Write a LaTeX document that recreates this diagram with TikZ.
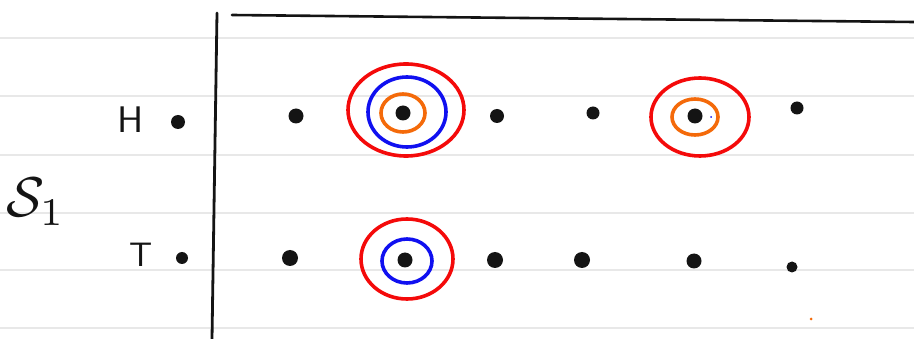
\documentclass[tikz,border=0pt]{standalone}
\usepackage{fontspec}
\definecolor{ink}{HTML}{141414}
\definecolor{rulegray}{HTML}{E8E8E8}
\definecolor{penred}{HTML}{F40A0A}
\definecolor{penblue}{HTML}{1010F0}
\definecolor{penorange}{HTML}{F46A0A}
\tikzset{
  dot/.style={circle, fill=ink, inner sep=0pt, minimum size=#1},
  ring/.style={draw=#1, line width=3.6pt},
  letter/.style={font=\sffamily, text=ink, inner sep=0pt},
}

\begin{document}
\begin{tikzpicture}[x=1pt, y=-1pt, line cap=round, line join=round]
% picture units are the pixels of the sketch, y runs down
\useasboundingbox (0,0) rectangle (914,339);
\foreach \y in {38,96,155,213,270,328} {
  \draw[rulegray, line width=1.4pt] (0,\y) -- (914,\y);
}
% axes
\coordinate (vtop) at (217,13);
\coordinate (vbot) at (212,339);
\coordinate (hleft) at (232,15);
\coordinate (hright) at (914,22);
\draw[ink, line width=2.8pt] (vtop) -- (vbot);
\draw[ink, line width=2.6pt] (hleft) -- (hright);
% labels
\node[letter] (hlab) at (131,120) {\scalebox{3.7}{H}};
\node[letter] (tlab) at (141,255) {\scalebox{3.4}{T}};
\node[text=ink, inner sep=0pt, anchor=west] (sone) at (6,202) {\scalebox{5.6}{$\mathcal{S}_1$}};
% dots, H row then T row
\foreach \n/\x/\y/\s in {h0/178/122/14, h1/296/116/15, h2/403/113/15, h3/497/116/14, h4/593/113/13, h5/695/116/15, h6/797/108/13,
                         t0/182/258/12, t1/290/258/16, t2/405/260/15, t3/495/260/16, t4/582/260/16, t5/694/261/15, t6/792/267/11} {
  \node[dot=\s pt] (\n) at (\x,\y) {};
}
% rings
\draw[ring=penred] ([shift={(3,-3)}]h2) ellipse [x radius=58, y radius=46];
\draw[ring=penblue] ([shift={(4,-1)}]h2) ellipse [x radius=39, y radius=35];
\draw[ring=penorange] (h2) ellipse [x radius=22, y radius=19];
\draw[ring=penred] ([shift={(5,1)}]h5) ellipse [x radius=49, y radius=39];
\draw[ring=penorange] ([shift={(0,1)}]h5) ellipse [x radius=23, y radius=18];
\draw[ring=penred] ([shift={(2,-1)}]t2) ellipse [x radius=46, y radius=40];
\draw[ring=penblue] ([shift={(2,1)}]t2) ellipse [x radius=25, y radius=22];
% stray pen marks
\fill[penblue] (711,117) circle [radius=1];
\fill[penorange] (811,319) circle [radius=1.5];
\end{tikzpicture}
\end{document}
